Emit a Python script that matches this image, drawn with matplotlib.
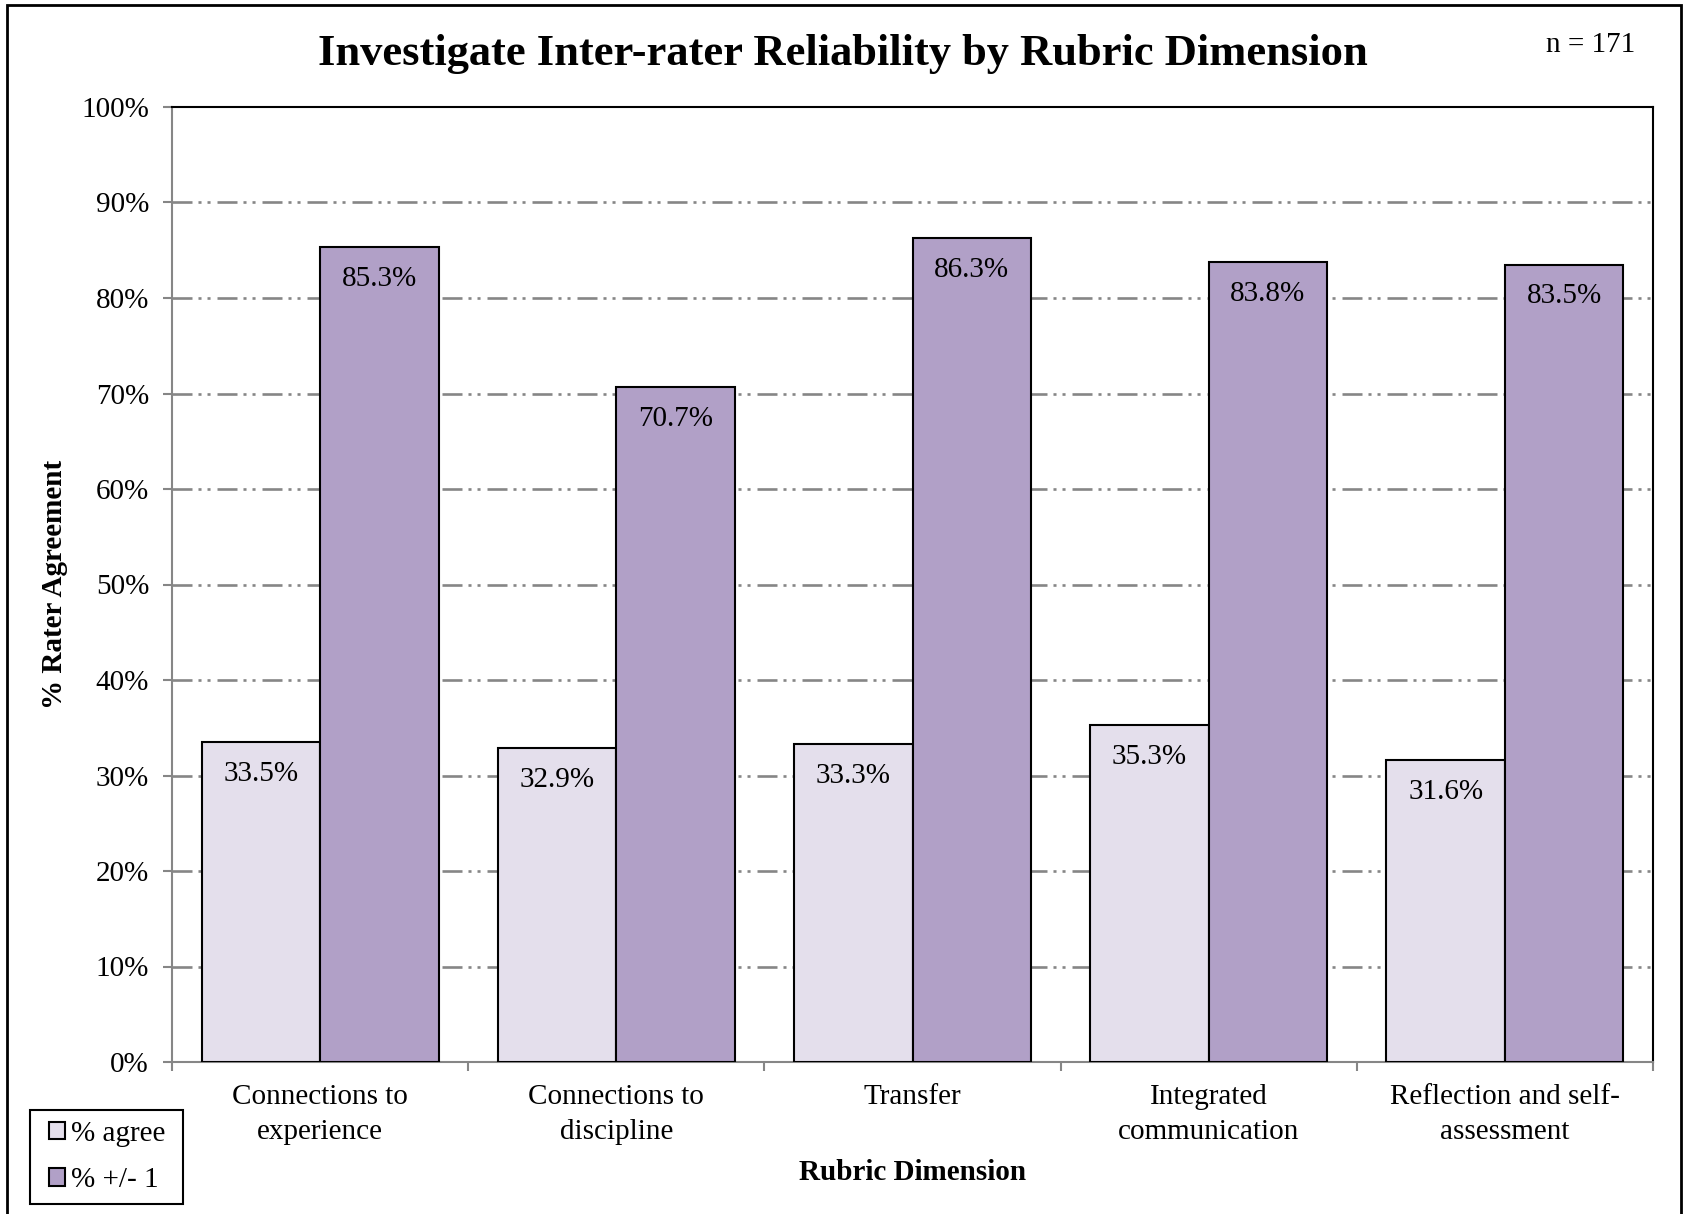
import matplotlib
matplotlib.use("Agg")
import matplotlib.pyplot as plt
from matplotlib.patches import Rectangle
import numpy as np

# Rubric dimensions and agreement rates (percent)
categories = ["Connections to\nexperience", "Connections to\ndiscipline", "Transfer",
              "Integrated\ncommunication", "Reflection and self-\nassessment"]
pct_agree = [33.5, 32.9, 33.3, 35.3, 31.6]
pct_within_one = [85.3, 70.7, 86.3, 83.8, 83.5]
series_names = ["% agree", "% +/- 1"]
y_ticks = [0, 10, 20, 30, 40, 50, 60, 70, 80, 90, 100]

plt.rcParams["font.family"] = ["Liberation Serif", "DejaVu Serif"]
plt.rcParams["lines.scale_dashes"] = False

LIGHT = "#E4DFEC"
DARK = "#B1A0C7"
GRID = "#868686"
FS = 21

W, H = 1684, 1214
fig = plt.figure(figsize=(W / 100, H / 100), dpi=100)
ax = fig.add_axes([172 / W, 1 - 1062 / H, (1653 - 172) / W, (1062 - 107) / H])

x = np.arange(len(categories))
bw = 0.4
b1 = ax.bar(x - bw / 2, pct_agree, bw, color=LIGHT, edgecolor="black", linewidth=1.5,
            label=series_names[0], zorder=3)
b2 = ax.bar(x + bw / 2, pct_within_one, bw, color=DARK, edgecolor="black", linewidth=1.5,
            label=series_names[1], zorder=3)

for bars, vals in ((b1, pct_agree), (b2, pct_within_one)):
    for rect, v in zip(bars, vals):
        ax.annotate(f"{v:.1f}%", (rect.get_x() + rect.get_width() / 2, v),
                    xytext=(0, -28), textcoords="offset points",
                    ha="center", va="baseline", fontsize=FS, zorder=4)

ax.set_xlim(-0.5, len(categories) - 0.5)
ax.set_ylim(0, 100)
ax.set_yticks(y_ticks)
ax.set_yticklabels([f"{t}%" for t in y_ticks], fontsize=FS)
ax.set_xticks(x)
ax.set_xticklabels(categories, fontsize=FS, linespacing=1.45)
ax.set_xticks(np.arange(len(categories) + 1) - 0.5, minor=True)
ax.tick_params(axis="x", which="major", length=0, pad=16)
ax.tick_params(axis="x", which="minor", length=6.5, width=1.5, color=GRID, direction="out")
ax.tick_params(axis="y", length=6.5, width=1.5, color=GRID, direction="out", pad=10)

# dash-dot-dot horizontal gridlines
for t in y_ticks[1:-1]:
    ax.axhline(t, color=GRID, linewidth=1.9,
               linestyle=(0, (14.4, 4.3, 2.2, 4.3, 2.2, 5.0)), zorder=1)

for side in ("left", "bottom"):
    ax.spines[side].set_color(GRID)
    ax.spines[side].set_linewidth(1.5)
for side in ("top", "right"):
    ax.spines[side].set_color("black")
    ax.spines[side].set_linewidth(1.5)

ax.set_ylabel("% Rater Agreement", fontsize=FS, fontweight="bold", labelpad=0)
ax.yaxis.set_label_coords((54 - 172) / (1653 - 172), 0.5)
ax.yaxis.label.set_va("center")
ax.set_xlabel("Rubric Dimension", fontsize=FS, fontweight="bold")
ax.xaxis.set_label_coords(0.5, -(1172 - 1062) / (1062 - 107))
ax.xaxis.label.set_va("center")

fig.text(843 / W, 1 - 54 / H, "Investigate Inter-rater Reliability by Rubric Dimension",
         ha="center", va="center", fontsize=32, fontweight="bold")
fig.text(1635 / W, 1 - 45 / H, "n = 171", ha="right", va="center", fontsize=FS)

# legend entries without their own frame; the box is drawn separately
leg = fig.legend(handles=[b1, b2], labels=series_names, loc="center left",
                 bbox_to_anchor=(49 / W, 1 - 1157 / H), fontsize=FS,
                 frameon=False, handlelength=0.55, handleheight=0.55,
                 handletextpad=0.2, borderpad=0, labelspacing=0.7,
                 borderaxespad=0)
fig.patches.append(Rectangle((30 / W, 1 - 1204 / H), (183 - 30) / W, (1204 - 1110) / H,
                             transform=fig.transFigure, fill=False,
                             edgecolor="black", linewidth=1.5))

# outer chart frame
fig.patches.append(Rectangle((7 / W, -0.05), (1681 - 7) / W, 1.05 - 5 / H,
                             transform=fig.transFigure, fill=False,
                             edgecolor="black", linewidth=2.0))

fig.savefig("out.png", dpi=100)
